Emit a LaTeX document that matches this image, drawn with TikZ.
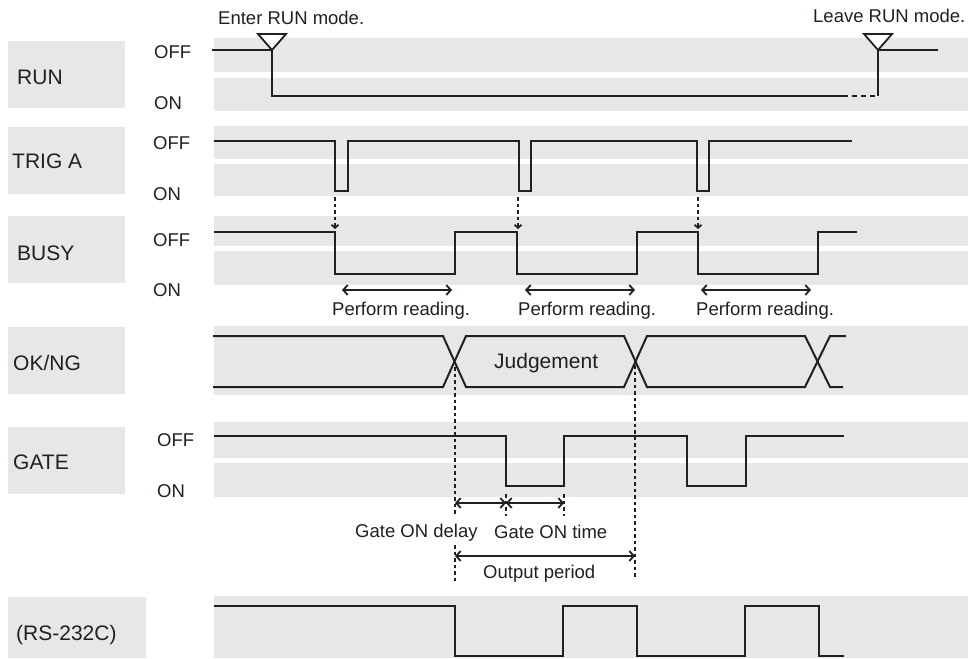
\documentclass[tikz,border=0pt]{standalone}
\usepackage{fontspec}
\setmainfont{Liberation Sans}
\usetikzlibrary{arrows.meta}
\definecolor{band}{HTML}{E6E7E8}
\definecolor{ink}{HTML}{231F20}
\begin{document}
\begin{tikzpicture}[x=1pt,y=-1pt,
  sig/.style={line width=2pt, draw=ink, line join=miter},
  bandbox/.style={fill=band, draw=none},
  lbl/.style={anchor=base west, inner sep=0pt, font=\fontsize{21}{25}\selectfont, text=ink},
  sm/.style={anchor=base west, inner sep=0pt, font=\fontsize{18.5}{22}\selectfont, text=ink},
  dsh/.style={line width=1.8pt, draw=ink, dash pattern=on 3.5pt off 3pt},
  dimarr/.style={line width=1.8pt, draw=ink, {Straight Barb[length=4.5pt,width=10pt]}-{Straight Barb[length=4.5pt,width=10pt]}},
  trigarr/.style={dsh, -{Straight Barb[length=3pt,width=7pt]}},
  tri/.style={line width=1.8pt, draw=ink, fill=white, line join=miter},
]
\useasboundingbox (0,0) rectangle (968,658);
% label boxes
\fill[band] (8,41) rectangle (125,108);
\fill[band] (8,127) rectangle (125,194);
\fill[band] (8,216) rectangle (125,283);
\fill[band] (8,327) rectangle (125,394);
\fill[band] (8,427) rectangle (125,494);
\fill[band] (8,597) rectangle (146,658);
% signal bands
\fill[band] (214,38) rectangle (968,72);
\fill[band] (214,78) rectangle (968,111);
\fill[band] (214,126) rectangle (968,159);
\fill[band] (214,164) rectangle (968,196);
\fill[band] (214,216) rectangle (968,246);
\fill[band] (214,251) rectangle (968,285);
\fill[band] (214,326) rectangle (968,395);
\fill[band] (214,422) rectangle (968,458);
\fill[band] (214,463) rectangle (968,497);
\fill[band] (214,596) rectangle (968,658);
% labels
\node[lbl] (lrun) at (17,85) {RUN};
\node[lbl] (ltrig) at (12,168) {TRIG A};
\node[lbl] (lbusy) at (17,260) {BUSY};
\node[lbl] (lok) at (13,370) {OK/NG};
\node[lbl] (lgate) at (13,469) {GATE};
\node[lbl] (lrs) at (16,640) {(RS-232C)};
% OFF/ON
\node[sm] (roff) at (154,59) {OFF};
\node[sm] (ron) at (154,110) {ON};
\node[sm] (toff) at (153,149) {OFF};
\node[sm] (ton) at (153,200) {ON};
\node[sm] (boff) at (153,246) {OFF};
\node[sm] (bon) at (153,296) {ON};
\node[sm] (goff) at (157,446) {OFF};
\node[sm] (gon) at (157,497) {ON};
% annotations
\node[sm] (enter) at (218,25) {Enter RUN mode.};
\node[sm] (leave) at (813,23) {Leave RUN mode.};
\node[sm] (pr1) at (332,315) {Perform reading.};
\node[sm] (pr2) at (518,315) {Perform reading.};
\node[sm] (pr3) at (696,315) {Perform reading.};
\node[lbl] (judge) at (494,368) {Judgement};
\node[sm] (gdelay) at (355,537) {Gate ON delay};
\node[sm] (gtime) at (494,538) {Gate ON time};
\node[sm] (outp) at (483,578) {Output period};
% RUN
\draw[sig] (212,50) -- (272,50) -- (272,96) -- (843,96);
\draw[sig, dash pattern=on 5pt off 4pt] (843,96) -- (878,96);
\draw[sig] (878,96) -- (878,50) -- (938,50);
\draw[tri] (258,34) -- (286,34) -- (272,50) -- cycle;
\draw[tri] (864,34) -- (892,34) -- (878,50) -- cycle;
% TRIG A
\draw[sig] (214,141) -| (335,191) -| (348,141) -| (519,191) -| (531,141) -| (697,191) -| (709,141) -- (852,141);
% trig to busy
\coordinate (a1) at (335,197); \coordinate (b1) at (335,229);
\coordinate (a2) at (518,197); \coordinate (b2) at (518,229);
\coordinate (a3) at (698,197); \coordinate (b3) at (698,229);
\draw[trigarr] (a1) -- (b1);
\draw[trigarr] (a2) -- (b2);
\draw[trigarr] (a3) -- (b3);
% BUSY
\draw[sig] (214,232) -| (335,274) -| (455,232) -| (517,274) -| (637,232) -| (698,274) -| (818,232) -- (857,232);
\draw[dimarr] (342,290) -- (452,290);
\draw[dimarr] (525,290) -- (635,290);
\draw[dimarr] (701,290) -- (811,290);
% OK/NG
\draw[sig] (213,336) -- (443,336) -- (466,387) -- (624,387) -- (647,336) -- (805,336) -- (830,387) -- (843,387);
\draw[sig] (213,387) -- (443,387) -- (466,336) -- (624,336) -- (647,387) -- (805,387) -- (830,336) -- (846,336);
% dashed verticals
\draw[dsh] (455,367) -- (455,516);
\draw[dsh] (455,545) -- (455,582);
\draw[dsh] (635,365) -- (635,578);
% GATE
\draw[sig] (214,436) -| (506,486) -| (564,436) -| (687,486) -| (746,436) -- (844,436);
\draw[dsh] (506,494) -- (506,516);
\draw[dsh] (564,494) -- (564,516);
\draw[dimarr] (455,503) -- (506,503);
\draw[dimarr] (506,503) -- (564,503);
\draw[dimarr] (455,556) -- (635,556);
% RS-232C
\draw[sig] (214,606) -| (455,656) -| (563,606) -| (637,656) -| (745,606) -| (819,656) -- (844,656);
\end{tikzpicture}
\end{document}
